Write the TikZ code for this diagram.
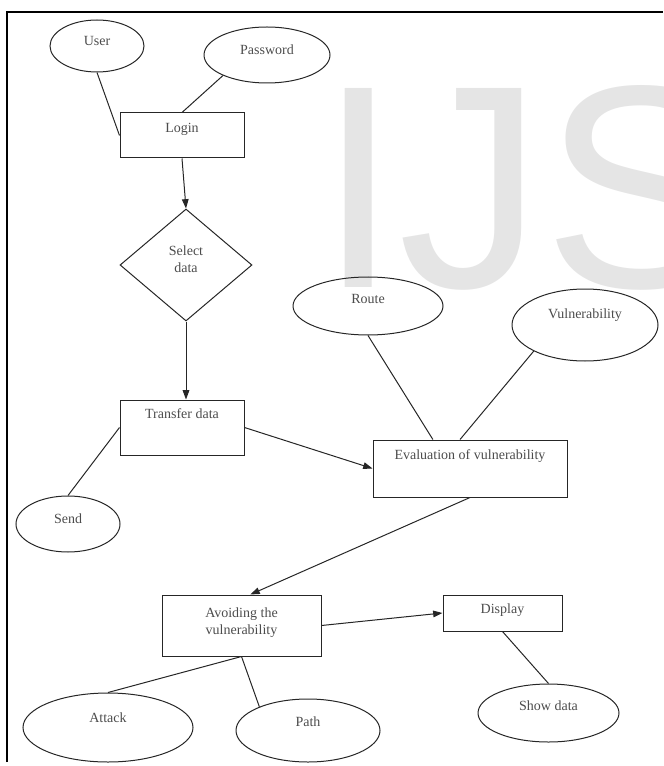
\documentclass[tikz,border=0pt]{standalone}
\usepackage{fontspec}
\setmainfont{Liberation Serif}
\newfontfamily\markfont{Liberation Sans}
\usepackage{tikz}
\usetikzlibrary{arrows.meta,positioning,shapes.geometric}
\definecolor{inkgray}{rgb}{.3,.3,.3}
\definecolor{markgray}{rgb}{.9,.9,.9}

\begin{document}
\begin{tikzpicture}[x=0.75pt,y=-0.75pt,% one unit is one pixel of the page
			every node/.style={
				align=center,		% so that "\\" breaks the line
				text=inkgray,
				font=\fontsize{10.5}{12.5}\selectfont,
				text height=7pt		% text depth is set node by node to lift the text
			},
			box/.style={rectangle,draw=black!85,line width=0.75pt,inner sep=0pt},
			attr/.style={ellipse,draw=black!85,line width=0.75pt,inner sep=0pt},
			every edge/.style={draw,black!85,line width=0.75pt},
			>={Triangle[length=7pt,width=5pt]}
		]
		\useasboundingbox (0,0) rectangle (663,766);
		% watermark and page frame
		\node[font=\markfont\fontsize{217}{217}\selectfont,text=markgray,text height=155pt,text depth=0pt,anchor=base west,inner sep=0pt](Mark) at (318,287){IJS};
		\draw[line width=1.5pt] (7,762) -- (7,12) -- (663,12);

		% processes
		\node[box,minimum width=93pt,minimum height=33.75pt,text depth=12pt](Login) at (182,135.5){Login};
		\node[diamond,draw=black!85,line width=0.75pt,inner sep=0pt,minimum width=99pt,minimum height=84pt,text height=20pt,text depth=8.8pt](Select) at (186,265){Select\\data};
		\node[box,minimum width=93pt,minimum height=41.25pt,text depth=20pt](Transfer) at (182,427.5){Transfer data};
		\node[box,minimum width=145.5pt,minimum height=42.75pt,text depth=20.5pt](Eval) at (470,468.5){Evaluation of vulnerability};
		\node[box,minimum width=119.25pt,minimum height=45.75pt,text height=22pt,text depth=9pt](Avoid) at (241.5,625.5){Avoiding the\\vulnerability};
		\node[box,minimum width=89.25pt,minimum height=27pt,text depth=6pt](Display) at (502.5,613){Display};

		% attributes
		\node[attr,minimum width=70.5pt,minimum height=39pt,text depth=7pt](User) at (97,46){User};
		\node[attr,minimum width=94.5pt,minimum height=42pt,text depth=7.5pt](Password) at (267,55){Password};
		\node[attr,minimum width=78pt,minimum height=42pt,text depth=8.5pt](Send) at (68,524){Send};
		\node[attr,minimum width=112.5pt,minimum height=43.5pt,text depth=11.5pt](Route) at (368,306){Route};
		\node[attr,minimum width=109.5pt,minimum height=54pt,text depth=17.5pt](Vuln) at (585,325){Vulnerability};
		\node[attr,minimum width=127.5pt,minimum height=51.75pt,text depth=14.5pt](Attack) at (108,727.5){Attack};
		\node[attr,minimum width=108pt,minimum height=47.25pt,text depth=13pt](Path) at (308,730.5){Path};
		\node[attr,minimum width=105.75pt,minimum height=43.5pt,text depth=11.5pt](Show) at (548.5,713){Show data};

		\path[->]
		(Login.south)edge []	(Select.north)
		(Select.south)edge []	(Select.south |- Transfer.north)
		(Transfer.east)edge []	(Eval.west)
		(Eval.south)edge []	(Avoid.74)
		(Avoid.east)edge []	(Display.west)
		;
		\path[-]
		(User.south)edge []	(Login.west)
		(Password.205)edge []	(Login.north)
		(Send.north)edge []	(Transfer.west)
		(Route.south)edge []	(Eval.142)
		(Vuln.207)edge []	(Eval.109)
		(Avoid.south)edge []	(Attack.north)
		(Avoid.south)edge []	(Path.154)
		(Display.south)edge []	(Show.north)
		;
	\end{tikzpicture}
\end{document}
